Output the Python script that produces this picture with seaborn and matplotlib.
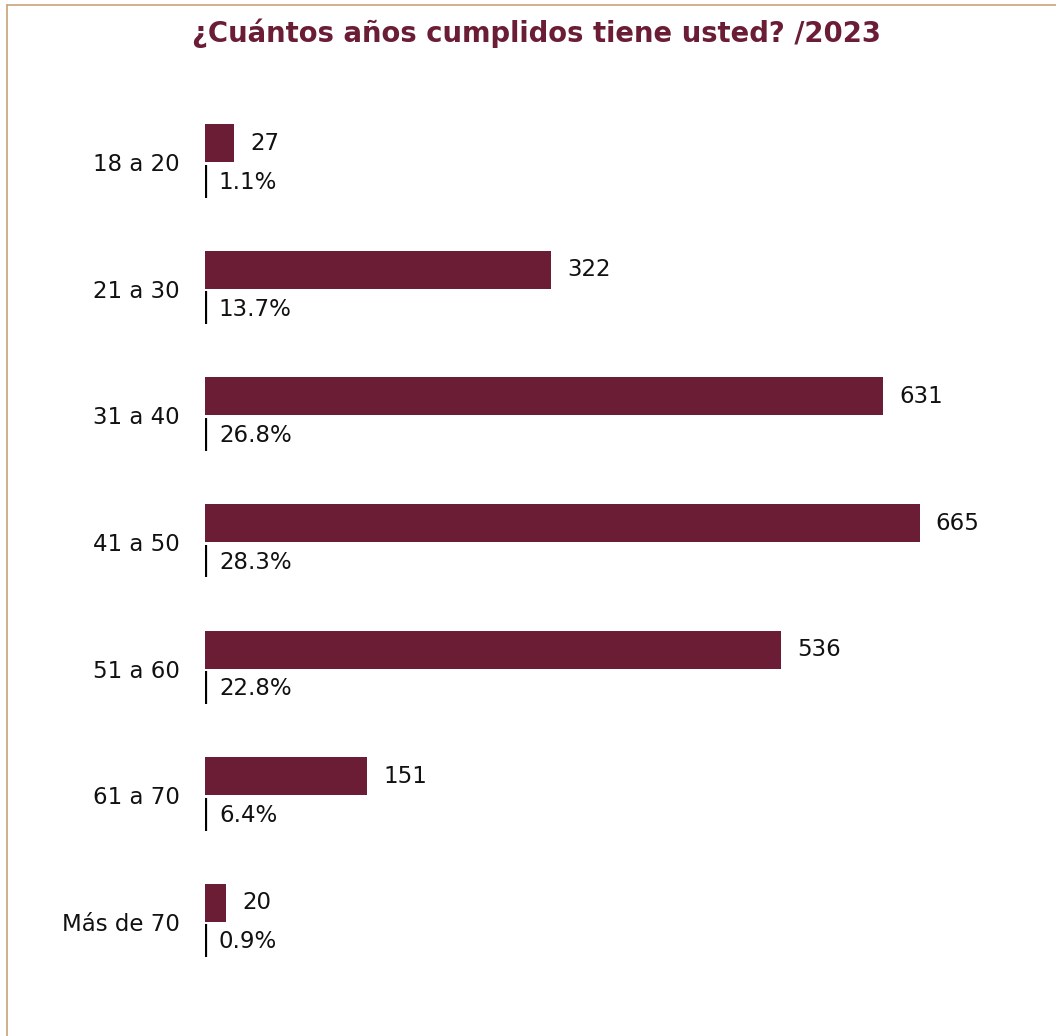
import matplotlib
matplotlib.use("Agg")
import matplotlib.pyplot as plt
import seaborn as sns
import pandas as pd
from matplotlib.lines import Line2D

# Age groups, respondent counts and shares
categories = ["18 a 20", "21 a 30", "31 a 40", "41 a 50", "51 a 60", "61 a 70", "Más de 70"]
counts = [27, 322, 631, 665, 536, 151, 20]
shares = ["1.1%", "13.7%", "26.8%", "28.3%", "22.8%", "6.4%", "0.9%"]
title = "¿Cuántos años cumplidos tiene usted? /2023"

bar_color = "#6A1D34"
frame_color = "#C9A27A"
text_color = "#111111"

sns.set_theme(style="white")
plt.rcParams["font.family"] = ["DejaVu Sans"]

df = pd.DataFrame({"grupo": categories, "n": counts})

fig = plt.figure(figsize=(10.56, 10.36), dpi=100)
ax = fig.add_axes([205 / 1056, 1 - 985 / 1036, (1040 - 205) / 1056, (985 - 99) / 1036])

bar_h = 0.3
sns.barplot(data=df, x="n", y="grupo", orient="h", color=bar_color,
            width=bar_h, saturation=1, ax=ax)

# Lift each bar into the upper half of its slot
for patch in ax.patches:
    patch.set_y(patch.get_y() - bar_h / 2)
    patch.set_edgecolor("none")

ax.set_xlim(0, 777)
ax.set_ylim(6.5, -0.5)

for i, (v, s) in enumerate(zip(counts, shares)):
    ax.annotate(str(v), xy=(v, i - bar_h / 2), xytext=(11.5, 0), textcoords="offset points",
                ha="left", va="center", fontsize=16.5, color=text_color)
    ax.annotate(s, xy=(0, i + 0.16), xytext=(10, 0), textcoords="offset points",
                ha="left", va="center", fontsize=16.5, color=text_color)

# Short axis segment beside each share label
ax.vlines([0.8] * len(counts), [i + 0.02 for i in range(len(counts))],
          [i + 0.28 for i in range(len(counts))], color="black", lw=1.6)

ax.set_xlabel("")
ax.set_ylabel("")
ax.set_xticks([])
ax.tick_params(axis="y", length=0, pad=18, labelsize=16.5, labelcolor=text_color)
for sp in ax.spines.values():
    sp.set_visible(False)

fig.text(537 / 1056, 1 - 33 / 1036, title, ha="center", va="center",
         fontsize=19.8, fontweight="bold", color="#6A1D34")

# Outer frame lines (top and left)
fig.add_artist(Line2D([7 / 1056, 1], [1 - 5 / 1036] * 2, transform=fig.transFigure,
                      color=frame_color, lw=1.2))
fig.add_artist(Line2D([7 / 1056] * 2, [0, 1 - 5 / 1036], transform=fig.transFigure,
                      color=frame_color, lw=1.2))

fig.savefig("out.png", dpi=100, facecolor="white")
